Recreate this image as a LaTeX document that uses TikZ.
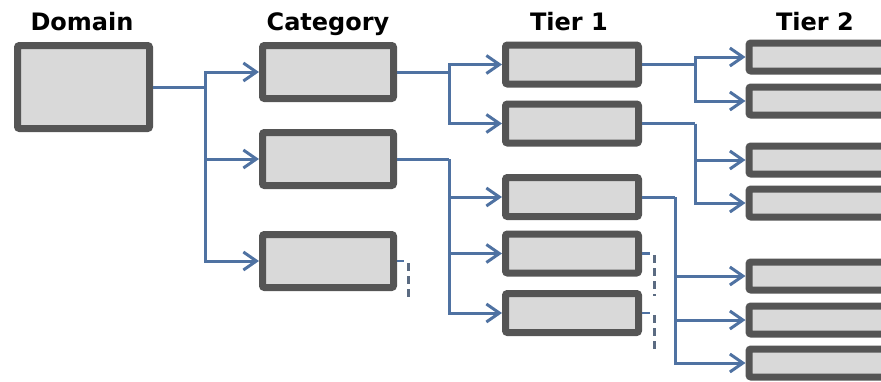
\documentclass[tikz,border=0pt]{standalone}
\usepackage{fontspec}
\setmainfont{DejaVu Sans}
\usetikzlibrary{arrows.meta}
\definecolor{boxline}{HTML}{555555}
\definecolor{boxfill}{HTML}{D9D9D9}
\definecolor{conncol}{HTML}{4F72A2}
\definecolor{dashcol}{HTML}{5B6B82}
\tikzset{
  box/.style={draw=boxline, fill=boxfill, line width=7pt, rounded corners=2pt, inner sep=0pt},
  domainbox/.style={box, minimum width=132pt, minimum height=83pt},
  catbox/.style={box, minimum width=131pt, minimum height=53pt},
  tierone/.style={box, minimum width=133pt, minimum height=39pt},
  tiertwo/.style={box, minimum width=150pt, minimum height=28pt},
  conn/.style={draw=conncol, line width=3pt},
  arr/.style={conn, -{Straight Barb[length=13pt,width=18pt,line width=3pt]}},
  stub/.style={draw=conncol, line width=2.8pt},
  dashline/.style={draw=dashcol, line width=3pt, dash pattern=on 8pt off 5pt},
  head/.style={font=\fontsize{24}{27}\selectfont\bfseries, text=black, inner sep=0pt, anchor=base}
}
\begin{document}
\begin{tikzpicture}[x=1pt,y=-1pt]
\useasboundingbox (0,0) rectangle (881,381);
% headings
\node[head] (hdom) at (82,30) {Domain};
\node[head] (hcat) at (328,30) {Category};
\node[head] (ht1) at (569,30) {Tier 1};
\node[head] (ht2) at (815,30) {Tier 2};
% boxes
\node[domainbox] (dom) at (83.5,87) {};
\node[catbox] (c1) at (328,72) {};
\node[catbox] (c2) at (328,159) {};
\node[catbox] (c3) at (328,261) {};
\node[tierone] (t1) at (572,64.5) {};
\node[tierone] (t2) at (572,123.5) {};
\node[tierone] (t3) at (572,197) {};
\node[tierone] (t4) at (572,253.5) {};
\node[tierone] (t5) at (572,313) {};
\node[tiertwo] (u1) at (824,57) {};
\node[tiertwo] (u2) at (824,101) {};
\node[tiertwo] (u3) at (824,160) {};
\node[tiertwo] (u4) at (824,203) {};
\node[tiertwo] (u5) at (824,276) {};
\node[tiertwo] (u6) at (824,320) {};
\node[tiertwo] (u7) at (824,363) {};
% junctions
\coordinate (j0) at (205,87);
\coordinate (j1) at (449,72);
\coordinate (j2) at (449,159);
\coordinate (j3) at (695,64.5);
\coordinate (j4) at (695,123.5);
\coordinate (j5) at (675,197);
% connectors
\draw[conn] (dom.east) -- (j0);
\draw[arr] (j0) |- (c1.west);
\draw[arr] (j0) |- (c2.west);
\draw[arr] (j0) |- (c3.west);
\draw[conn] (c1.east) -- (j1);
\draw[arr] (j1) |- (t1.west);
\draw[arr] (j1) |- (t2.west);
\draw[conn] (c2.east) -- (j2);
\draw[arr] (j2) |- (t3.west);
\draw[arr] (j2) |- (t4.west);
\draw[arr] (j2) |- (t5.west);
\draw[conn] (t1.east) -- (j3);
\draw[arr] (j3) |- (u1.west);
\draw[arr] (j3) |- (u2.west);
\draw[conn] (t2.east) -- (j4);
\draw[arr] (j4) |- (u3.west);
\draw[arr] (j4) |- (u4.west);
\draw[conn] (t3.east) -- (j5);
\draw[arr] (j5) |- (u5.west);
\draw[arr] (j5) |- (u6.west);
\draw[arr] (j5) |- (u7.west);
% stubs with dashed continuation
\coordinate (s1) at (404,261);
\coordinate (d1a) at (408,263);
\coordinate (d1b) at (408,298);
\draw[stub] (c3.east) -- (s1);
\draw[dashline] (d1a) -- (d1b);
\coordinate (s2) at (650,253.5);
\coordinate (d2a) at (654,255);
\coordinate (d2b) at (654,296);
\draw[stub] (t4.east) -- (s2);
\draw[dashline] (d2a) -- (d2b);
\coordinate (s3) at (650,313);
\coordinate (d3a) at (654,315);
\coordinate (d3b) at (654,350);
\draw[stub] (t5.east) -- (s3);
\draw[dashline] (d3a) -- (d3b);
\end{tikzpicture}
\end{document}
